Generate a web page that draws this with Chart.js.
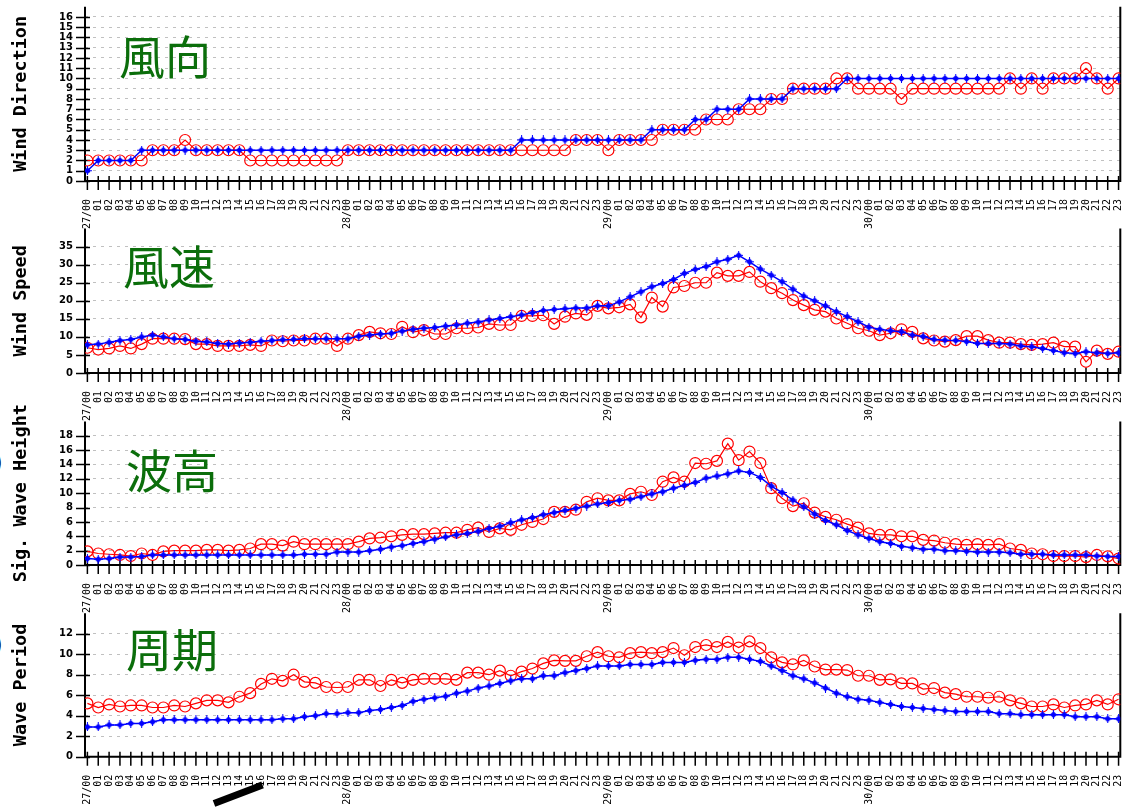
<!DOCTYPE html>
<html><head><meta charset="utf-8">
<script src="https://cdn.jsdelivr.net/npm/chart.js@4.4.1/dist/chart.umd.min.js"></script>
<style>
html,body{margin:0;padding:0;background:#fff;}
body{width:1127px;height:810px;overflow:hidden;position:relative;}
canvas{position:absolute;left:0;}
#stroke{position:absolute;left:214px;top:800px;width:52px;height:7px;background:#000;transform:rotate(-21deg);transform-origin:0 50%;}
.edge{position:absolute;left:-9px;font:bold 26px "DejaVu Sans";color:#000;line-height:1;}
</style></head><body>
<div id="stroke"></div>
<div class="edge" style="top:449px">)</div>
<div class="edge" style="top:631px">)</div>
<script>
// ---------- data ----------
const days = ['27','28','29','30'];
const hours = ['00','01','02','03','04','05','06','07','08','09','10','11','12','13','14','15','16','17','18','19','20','21','22','23'];

const dirBlue = [1,2,2,2,2,
 3,3,3,3,3,3,3,3,3,3, 3,3,3,3,3,3,3,3,3,3, 3,3,3,3,3,3,3,3,3,3, 3,3,3,3,3,
 4,4,4,4,4,4,4,4,4,4,4,4,
 5,5,5,5, 6,6, 7,7,7, 8,8,8,8, 9,9,9,9,9,
 10,10,10,10,10,10,10,10,10,10,10,10,10,10,10,10,10,10,10,10,10,10,10,10,10,10];
const dirRed = [2,2,2,2,2,2, 3,3,3, 4, 3,3,3,3,3, 2,2,2,2,2,2,2,2,2,
 3,3,3,3,3,3,3,3,3,3,3,3,3,3,3,3,3,3,3,3,3,
 4,4,4, 3, 4,4,4,4, 5,5,5,5, 6,6,6, 7,7,7, 8,8, 9,9,9,9, 10,10, 9,9,9,9, 8,
 9,9,9,9,9,9,9,9,9, 10, 9, 10, 9, 10,10,10, 11, 10, 9, 10];

const spdBlue = [7.8,8.0,8.5,9.0,9.3,10.0,10.5,10.0,9.5,9.3,8.8,8.6,8.2,8.0,8.3,8.5,8.8,9.0,9.2,9.3,9.5,9.5,9.5,9.5,
 9.5,10.2,10.5,10.8,11.0,11.6,12.1,12.4,12.6,13.0,13.3,13.8,14.1,14.7,15.1,15.6,16.1,16.7,17.3,17.6,17.8,18.0,18.0,18.6,
 18.6,19.7,21.1,22.5,23.9,24.8,25.9,27.6,28.7,29.5,30.8,31.5,32.6,30.8,28.8,27.1,25.3,23.2,21.3,20.0,18.6,17.0,15.6,14.2,
 12.7,12.1,11.7,11.4,10.5,10.1,9.3,9.1,9.0,8.7,8.2,8.2,8.2,8.0,7.5,7.3,6.8,6.2,5.6,5.4,5.9,5.6,5.4,5.6];
const spdRed = [7.0,6.5,6.8,7.5,6.8,8.0,9.5,9.5,9.5,9.4,8.0,8.0,7.5,7.5,7.5,7.8,7.5,9.0,8.8,9.0,9.0,9.5,9.5,7.5,
 9.5,10.5,11.4,11.0,10.8,12.8,11.3,11.9,10.8,10.8,12.4,12.4,12.6,13.6,13.3,13.3,15.8,15.8,16.0,13.6,15.6,16.5,16.1,18.6,
 17.9,18.2,19.0,15.4,20.9,18.4,23.7,24.1,25.0,25.0,27.8,26.9,26.9,28.0,25.3,23.5,22.1,20.2,18.8,17.5,17.0,15.1,13.8,12.4,
 11.7,10.5,11.0,12.1,11.4,9.6,9.0,8.7,9.1,10.2,10.2,9.1,8.4,8.4,8.0,7.8,8.0,8.4,7.3,7.3,3.1,6.2,5.3,5.9];

const hgtBlue = [0.9,0.8,0.9,1.1,1.1,1.2,1.4,1.4,1.4,1.4,1.4,1.4,1.4,1.4,1.4,1.4,1.4,1.4,1.4,1.4,1.5,1.5,1.5,1.8,
 1.8,1.8,2.0,2.2,2.5,2.7,3.0,3.25,3.6,3.9,4.2,4.4,4.7,5.1,5.4,5.9,6.3,6.6,7.0,7.3,7.6,7.9,8.2,8.5,
 8.7,9.0,9.15,9.5,9.9,10.2,10.7,11.1,11.5,12.1,12.4,12.7,13.1,12.9,12.2,11.0,10.1,9.05,8.1,7.1,6.2,5.6,4.8,4.2,
 3.7,3.25,3.0,2.6,2.4,2.2,2.2,2.0,2.0,1.9,1.8,1.8,1.8,1.7,1.5,1.5,1.5,1.4,1.4,1.4,1.4,1.25,1.2,1.2];
const hgtRed = [1.9,1.6,1.5,1.4,1.25,1.6,1.4,1.9,2.0,2.0,2.0,2.1,2.1,2.0,2.1,2.3,2.9,2.9,2.7,3.25,2.9,2.9,2.9,2.9,
 2.9,3.25,3.7,3.8,4.0,4.2,4.3,4.3,4.4,4.5,4.5,4.9,5.2,4.6,5.1,4.9,5.6,6.0,6.4,7.4,7.4,7.7,8.8,9.3,
 9.0,9.0,9.9,10.2,9.75,11.6,12.2,11.6,14.2,14.1,14.5,16.9,14.6,15.8,14.2,10.7,9.3,8.2,8.6,7.3,6.7,6.3,5.7,5.2,
 4.4,4.2,4.2,4.0,4.0,3.5,3.4,3.1,2.9,2.8,2.9,2.8,2.9,2.3,2.1,1.6,1.5,1.25,1.25,1.25,1.1,1.4,1.2,0.9];

const perBlue = [2.9,2.9,3.1,3.1,3.25,3.25,3.4,3.6,3.6,3.6,3.6,3.6,3.6,3.6,3.6,3.6,3.6,3.6,3.7,3.7,3.9,4.0,4.2,4.2,
 4.3,4.3,4.5,4.6,4.8,5.0,5.4,5.6,5.75,5.9,6.2,6.4,6.7,6.9,7.15,7.4,7.6,7.6,7.9,7.9,8.2,8.4,8.6,8.85,
 8.85,8.85,9.0,9.0,9.0,9.2,9.2,9.2,9.4,9.5,9.5,9.7,9.7,9.5,9.3,8.85,8.4,7.9,7.6,7.2,6.7,6.2,5.85,5.6,
 5.5,5.3,5.1,4.9,4.8,4.7,4.6,4.5,4.4,4.4,4.4,4.4,4.2,4.2,4.1,4.1,4.1,4.1,4.1,3.9,3.9,3.9,3.7,3.7];
const perRed = [5.2,4.8,5.1,4.9,5.0,5.0,4.8,4.8,5.0,4.9,5.2,5.5,5.5,5.3,5.85,6.2,7.1,7.6,7.4,8.0,7.3,7.2,6.8,6.75,
 6.8,7.5,7.5,6.9,7.5,7.2,7.5,7.6,7.6,7.6,7.5,8.2,8.2,8.0,8.4,7.9,8.3,8.6,9.1,9.4,9.35,9.35,9.8,10.2,
 9.8,9.7,10.1,10.2,10.1,10.2,10.6,9.9,10.7,10.9,10.7,11.2,10.65,11.25,10.6,9.7,9.2,9.0,9.4,8.8,8.5,8.5,8.45,7.9,
 7.9,7.5,7.55,7.15,7.15,6.6,6.7,6.25,6.1,5.85,5.85,5.75,5.85,5.5,5.2,4.9,4.9,5.1,4.8,5.0,5.1,5.5,5.1,5.6];

const yTitles = ['Wind Direction','Wind Speed','Sig. Wave Height','Wave Period'];
const panelNames = ['風向','風速','波高','周期'];
const yTickSteps = [1,5,2,2];
const yTickTops = [16,35,18,12];
const yMaxes = [17,40,20,14];

// ---------- tick labels built from days/hours ----------
const timeLabels = [];
days.forEach(d => hours.forEach(h => timeLabels.push(h === '00' ? d + '/' + h : h)));

// ---------- styling / layout ----------
const W = 1127;
const PLOT_LEFT = 85, PLOT_RIGHT = 1121;
const panels = [
  {canvasTop:0,   plotTop:4.6,   plotBottom:181,   xAxisH:50, labelPos:[119,57]},
  {canvasTop:210, plotTop:228.6, plotBottom:373,   xAxisH:50, labelPos:[123,267]},
  {canvasTop:396, plotTop:421.4, plotBottom:565,   xAxisH:50, labelPos:[126,471]},
  {canvasTop:596, plotTop:613.2, plotBottom:756.7, xAxisH:53.3, labelPos:[126,650]}
];

function blueMarker(){
  const c = document.createElement('canvas'); c.width = 9; c.height = 9;
  const g = c.getContext('2d');
  g.fillStyle = '#0000ff';
  g.beginPath(); g.moveTo(4.5,1); g.lineTo(8,4.5); g.lineTo(4.5,8); g.lineTo(1,4.5); g.closePath(); g.fill();
  g.fillRect(4,0,1,9); g.fillRect(0,4,9,1);
  return c;
}
const BM = blueMarker();

const framePlugin = {
  id: 'frame',
  beforeDatasetsDraw(chart){
    const {ctx, chartArea:{left,right,top,bottom}, scales:{x,y}} = chart;
    ctx.save();
    ctx.strokeStyle = '#000';
    ctx.lineWidth = 1.5;
    ctx.beginPath();
    y.ticks.forEach(t => { const py = Math.round(y.getPixelForValue(t.value)) + 0.5; ctx.moveTo(left-9, py); ctx.lineTo(left+5, py); });
    x.ticks.forEach(t => { const px = x.getPixelForValue(t.value); ctx.moveTo(px, bottom-5); ctx.lineTo(px, bottom+9); });
    ctx.stroke();
    ctx.lineWidth = 2;
    ctx.beginPath();
    ctx.moveTo(left, top); ctx.lineTo(left, bottom); ctx.lineTo(right, bottom); ctx.lineTo(right, top);
    ctx.stroke();
    ctx.restore();
  },
  afterDraw(chart, args, opts){
    const ctx = chart.ctx;
    ctx.save();
    ctx.fillStyle = '#0b6e0b';
    ctx.font = '46px "Noto Sans CJK JP"';
    ctx.textBaseline = 'middle';
    ctx.textAlign = 'left';
    ctx.fillText(opts.text, opts.x, opts.y - opts.top);
    ctx.restore();
  }
};

function zeroPad(s){ s.paddingLeft = 0; s.paddingRight = 0; s.paddingTop = 0; s.paddingBottom = 0; }

panels.forEach((p, k) => {
  const cv = document.createElement('canvas');
  const h = Math.round(p.plotBottom - p.canvasTop + p.xAxisH);
  cv.width = W; cv.height = h;
  cv.style.top = p.canvasTop + 'px';
  document.body.appendChild(cv);
  const series = [[dirBlue,dirRed],[spdBlue,spdRed],[hgtBlue,hgtRed],[perBlue,perRed]][k];
  const toPts = arr => arr.map((v,i) => ({x:i, y:v}));
  new Chart(cv, {
    type: 'line',
    data: {
      datasets: [
        {data: toPts(series[1]), borderColor:'#ff0000', borderWidth:1.2, pointStyle:'circle', pointRadius:5.5,
         pointBorderColor:'#ff0000', pointBackgroundColor:'rgba(0,0,0,0)', pointBorderWidth:1.2, tension:0, order:2},
        {data: toPts(series[0]), borderColor:'#0000ff', borderWidth:1.5, pointStyle:BM, pointRadius:4,
         tension:0, order:1}
      ]
    },
    options: {
      responsive:false, animation:false, devicePixelRatio:1,
      layout:{padding:{top:p.plotTop - p.canvasTop, right:W-PLOT_RIGHT, left:0, bottom:0}},
      plugins:{legend:{display:false}, tooltip:{enabled:false},
        frame:{text:panelNames[k], x:p.labelPos[0], y:p.labelPos[1], top:p.canvasTop}},
      scales:{
        x:{type:'linear', min:-0.22, max:95.16,
           afterBuildTicks: s => { s.ticks = timeLabels.map((_,i)=>({value:i})); },
           afterFit: s => { s.height = p.xAxisH; zeroPad(s); },
           grid:{display:false}, border:{display:false},
           ticks:{autoSkip:false, minRotation:90, maxRotation:90, padding:10, color:'#000',
                  font:{family:'"DejaVu Sans Mono"', size:10},
                  callback: v => timeLabels[v]}},
        y:{type:'linear', min:0, max:yMaxes[k],
           afterBuildTicks: s => { const t=[]; for(let v=0; v<=yTickTops[k]; v+=yTickSteps[k]) t.push({value:v}); s.ticks=t; },
           afterFit: s => { s.width = PLOT_LEFT; zeroPad(s); },
           grid:{color:'#c0c0c0', lineWidth:1, drawTicks:false}, border:{display:false, dash:[3,5]},
           title:{display:true, text:yTitles[k], color:'#000', padding:{top:10,bottom:0},
                  font:{family:'"DejaVu Sans Mono"', size:18.5, weight:'bold'}},
           ticks:{autoSkip:false, padding:12, color:'#000', font:{family:'"DejaVu Sans"', size:10, weight:'bold'}}}
      }
    },
    plugins:[framePlugin]
  });
});
</script>
</body></html>
